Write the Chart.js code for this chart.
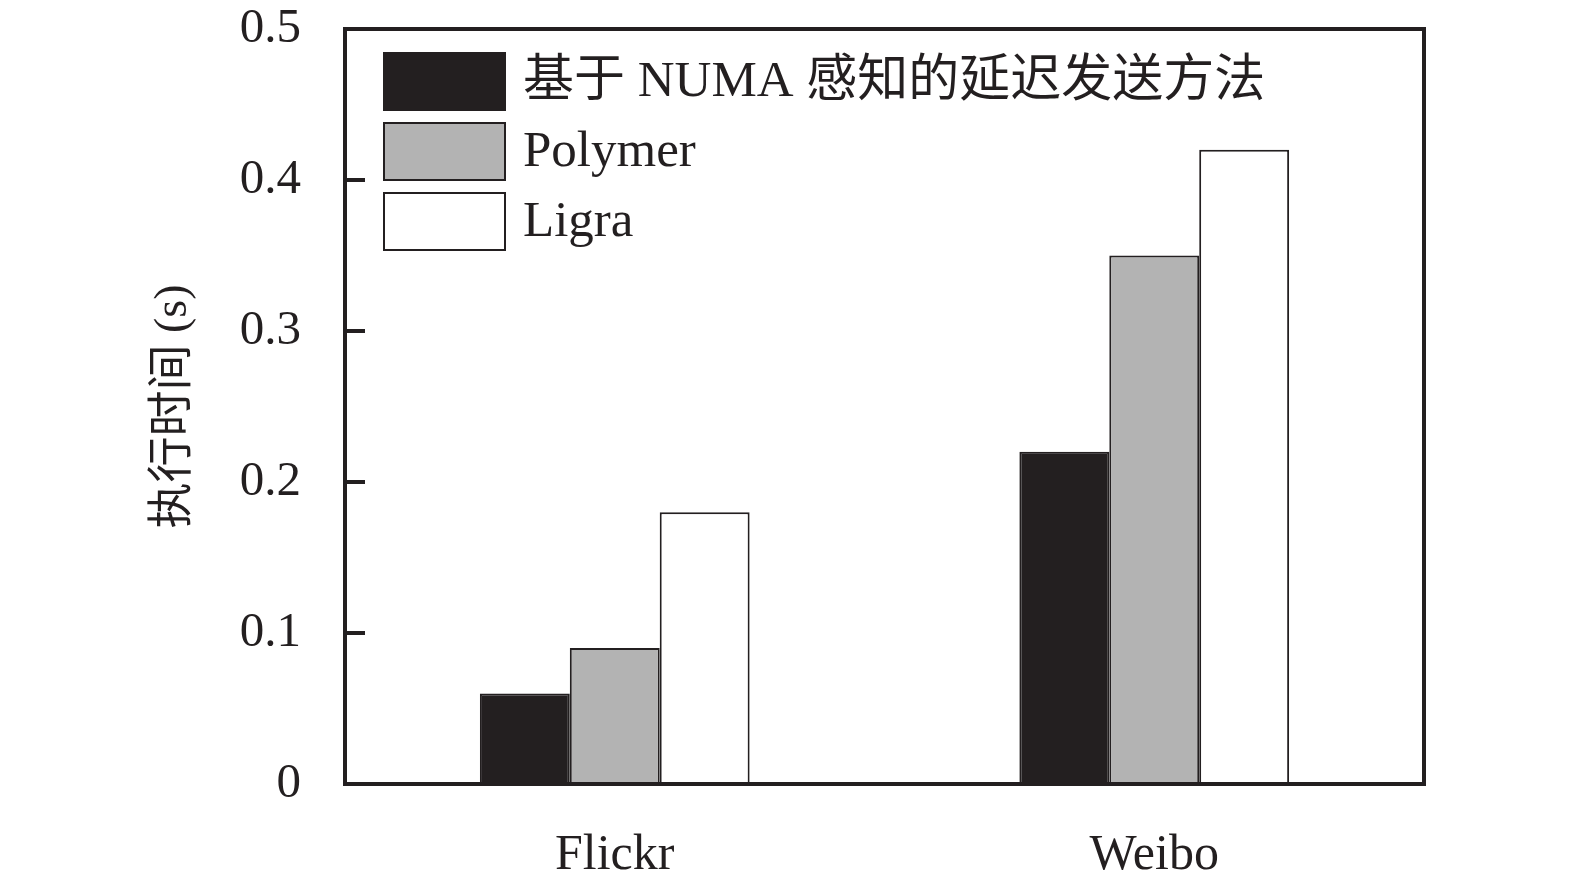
<!DOCTYPE html>
<html>
<head>
<meta charset="utf-8">
<script src="https://cdn.jsdelivr.net/npm/chart.js@4/dist/chart.umd.min.js"></script>
<style>
  body { margin: 0; background: #fff; }
  canvas { display: block; }
</style>
</head>
<body>
<canvas id="chart" width="1575" height="883"></canvas>
<script>
const categories = ['Flickr', 'Weibo'];
const seriesNames = ['基于 NUMA 感知的延迟发送方法', 'Polymer', 'Ligra'];
const numaValues = [0.06, 0.22];
const polymerValues = [0.09, 0.35];
const ligraValues = [0.18, 0.42];
const yTitle = '执行时间 (s)';

const ink = '#231f20';
const fontFamily = '"Liberation Serif", "Times New Roman", "Noto Sans CJK SC", serif';

// box around the plot area, drawn on top of the bars
const frame = {
  id: 'frame',
  afterDatasetsDraw(chart) {
    const { ctx, chartArea: a } = chart;
    ctx.save();
    ctx.strokeStyle = ink;
    ctx.lineWidth = 4;
    ctx.strokeRect(a.left, a.top, a.right - a.left, a.bottom - a.top);
    ctx.restore();
  }
};

// legend sits inside the plot, top left, one row per dataset
const innerLegend = {
  id: 'innerLegend',
  afterDraw(chart) {
    const { ctx, chartArea: a } = chart;
    ctx.save();
    ctx.font = '51px ' + fontFamily;
    ctx.textBaseline = 'middle';
    chart.data.datasets.forEach((ds, i) => {
      const x = a.left + 38;
      const y = a.top + 23 + i * 70;
      ctx.fillStyle = ds.backgroundColor;
      ctx.fillRect(x, y, 123, 59);
      ctx.strokeStyle = ink;
      ctx.lineWidth = 2;
      ctx.strokeRect(x + 1, y + 1, 121, 57);
      ctx.fillStyle = ink;
      ctx.fillText(ds.label, x + 140, y + 31);
    });
    ctx.restore();
  }
};

const data = {
  labels: categories,
  datasets: [
    { label: seriesNames[0], data: numaValues, backgroundColor: ink },
    { label: seriesNames[1], data: polymerValues, backgroundColor: '#b3b3b3' },
    { label: seriesNames[2], data: ligraValues, backgroundColor: '#ffffff' }
  ]
};

data.datasets.forEach(ds => {
  ds.borderColor = ink;
  ds.borderWidth = 2;
  ds.categoryPercentage = 0.5;
  ds.barPercentage = 1;
});

new Chart(document.getElementById('chart'), {
  type: 'bar',
  data: data,
  options: {
    responsive: false,
    animation: false,
    devicePixelRatio: 1,
    layout: { padding: { top: 29, right: 151, bottom: 0, left: 0 } },
    plugins: {
      legend: { display: false },
      tooltip: { enabled: false }
    },
    scales: {
      x: {
        grid: { display: false },
        border: { display: false },
        ticks: {
          color: ink,
          padding: 34,
          font: { family: fontFamily, size: 50 }
        },
        afterFit(scale) { scale.height = 99; }
      },
      y: {
        min: 0,
        max: 0.5,
        border: { display: false },
        grid: {
          drawOnChartArea: false,
          tickLength: -20,
          lineWidth: 4,
          color: ink
        },
        ticks: {
          stepSize: 0.1,
          color: ink,
          padding: 64,
          font: { family: fontFamily, size: 49, lineHeight: 1 }
        },
        title: {
          display: true,
          text: yTitle,
          color: ink,
          padding: { top: 146, bottom: 0 },
          font: { family: fontFamily, size: 46 }
        },
        afterFit(scale) {
          scale.width = 345;
          scale.paddingTop = 0;
          scale.paddingBottom = 0;
        }
      }
    }
  },
  plugins: [frame, innerLegend]
});
</script>
</body>
</html>
